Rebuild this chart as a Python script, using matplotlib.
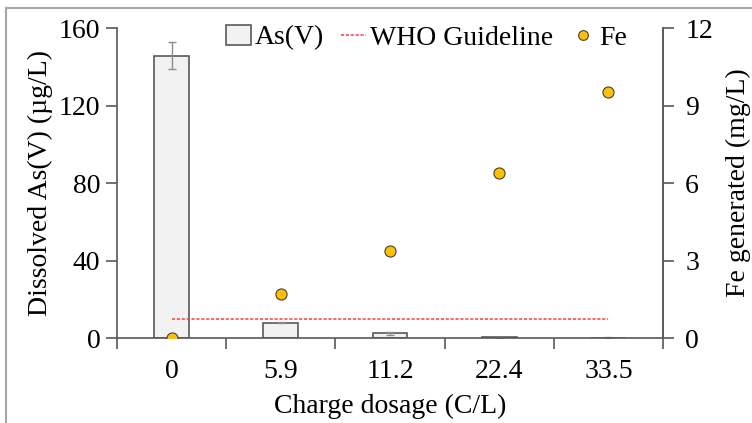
import matplotlib
matplotlib.use("Agg")
import matplotlib.pyplot as plt
from matplotlib.lines import Line2D
import numpy as np
from matplotlib.patches import Rectangle

plt.rcParams['font.family'] = ['Liberation Serif', 'DejaVu Serif']
plt.rcParams['font.size'] = 20

categories = ['0', '5.9', '11.2', '22.4', '33.5']
as_values = [145.8, 7.9, 2.4, 0.3, 0.2]
as_err = [7.0, 0.4, 0.9, 0.1, 0.1]
fe_values = [0.0, 1.71, 3.37, 6.38, 9.53]
fe_err = [0.0, 0.05, 0.06, 0.2, 0.08]
who_limit = 10

x = np.arange(len(categories))
edge = '#595959'

fig = plt.figure(figsize=(7.52, 4.23), dpi=100)
fig.patches.append(Rectangle((6/752, -0.1), 1.2, 1 - 8/423 + 0.1, transform=fig.transFigure,
                             fill=False, edgecolor='#a6a6a6', linewidth=1.5, zorder=-1))
ax = fig.add_axes([117/752, 1 - 338/423, 546/752, 310/423])

bars = ax.bar(x, as_values, width=0.32, color='#f2f2f2', edgecolor=edge, linewidth=1.2,
              yerr=as_err, error_kw=dict(ecolor='#8c8c8c', elinewidth=1, capsize=3),
              label='As(V)', zorder=2)
who, = ax.plot([x[0], x[-1]], [who_limit, who_limit], color='#ff3b3b', linestyle=(0, (2, 1.2)),
               linewidth=1.1, label='WHO Guideline', zorder=3)

ax.set_xlim(-0.5, len(categories) - 0.5)
ax.set_ylim(0, 160)
ax.set_yticks([0, 40, 80, 120, 160])
ax.set_xticks(x)
ax.set_xticklabels(categories)
ax.set_xticks(np.arange(len(categories) + 1) - 0.5, minor=True)
ax.tick_params(axis='x', which='major', length=0, pad=15)
ax.tick_params(axis='x', which='minor', length=8, width=1.2, color=edge, direction='out')
ax.tick_params(axis='y', length=8, width=1.2, color=edge, direction='out', pad=4)
ax.spines['top'].set_visible(False)
for s in ['left', 'bottom', 'right']:
    ax.spines[s].set_color(edge)
    ax.spines[s].set_linewidth(1.2)
ax.set_xlabel('Charge dosage (C/L)', labelpad=7)
ax.set_ylabel('Dissolved As(V) (µg/L)', labelpad=4)

ax2 = ax.twinx()
ax2.set_ylim(0, 12)
ax2.set_yticks([0, 3, 6, 9, 12])
ax2.spines['top'].set_visible(False)
ax2.spines['left'].set_visible(False)
ax2.spines['bottom'].set_visible(False)
ax2.spines['right'].set_color(edge)
ax2.spines['right'].set_linewidth(1.2)
ax2.tick_params(axis='y', length=8, width=1.2, color=edge, direction='out', pad=8)
ax2.errorbar(x, fe_values, yerr=fe_err, fmt='o', markersize=8, markerfacecolor='#ffc000',
             markeredgecolor='#404040', markeredgewidth=0.8, ecolor='#8c8c8c',
             elinewidth=1, capsize=0, zorder=4)
ax2.set_ylabel('Fe generated (mg/L)', labelpad=9)

fe_handle = Line2D([], [], linestyle='none', marker='o', markersize=7, markerfacecolor='#ffc000',
                   markeredgecolor='#404040', markeredgewidth=0.8)
ax2.legend([bars, who, fe_handle], ['As(V)', 'WHO Guideline', 'Fe'], loc='upper center',
           bbox_to_anchor=(0.567, 1.045), ncol=3, frameon=False, handlelength=0.9,
           handleheight=0.7, handletextpad=0.15, columnspacing=0.6, borderaxespad=0)

fig.savefig('out.png', dpi=100)
